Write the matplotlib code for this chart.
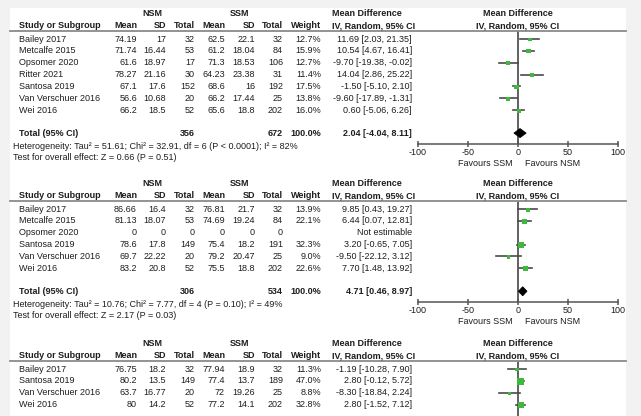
import matplotlib
matplotlib.use("Agg")
import matplotlib.pyplot as plt
from matplotlib.patches import Rectangle, Polygon
from matplotlib.lines import Line2D

plt.rcParams['font.family'] = ['Liberation Sans', 'DejaVu Sans']
plt.rcParams['axes.unicode_minus'] = False

# ---------------- data ----------------
studies1 = ["Bailey 2017", "Metcalfe 2015", "Opsomer 2020", "Ritter 2021",
            "Santosa 2019", "Van Verschuer 2016", "Wei 2016"]
nsm_mean1 = [74.19, 71.74, 61.6, 78.27, 67.1, 56.6, 66.2]
nsm_sd1 = [17, 16.44, 18.97, 21.16, 17.6, 10.68, 18.5]
nsm_n1 = [32, 53, 17, 30, 152, 20, 52]
ssm_mean1 = [62.5, 61.2, 71.3, 64.23, 68.6, 66.2, 65.6]
ssm_sd1 = [22.1, 18.04, 18.53, 23.38, 16, 17.44, 18.8]
ssm_n1 = [32, 84, 106, 31, 192, 25, 202]
weight1 = [12.7, 15.9, 12.7, 11.4, 17.5, 13.8, 16.0]
md1 = [11.69, 10.54, -9.70, 14.04, -1.50, -9.60, 0.60]
lo1 = [2.03, 4.67, -19.38, 2.86, -5.10, -17.89, -5.06]
hi1 = [21.35, 16.41, -0.02, 25.22, 2.10, -1.31, 6.26]
total1 = {"nsm_n": 356, "ssm_n": 672, "md": 2.04, "lo": -4.04, "hi": 8.11}
het1 = "Heterogeneity: Tau\u00b2 = 51.61; Chi\u00b2 = 32.91, df = 6 (P < 0.0001); I\u00b2 = 82%"
test1 = "Test for overall effect: Z = 0.66 (P = 0.51)"

studies2 = ["Bailey 2017", "Metcalfe 2015", "Opsomer 2020", "Santosa 2019",
            "Van Verschuer 2016", "Wei 2016"]
nsm_mean2 = [86.66, 81.13, 0, 78.6, 69.7, 83.2]
nsm_sd2 = [16.4, 18.07, 0, 17.8, 22.22, 20.8]
nsm_n2 = [32, 53, 0, 149, 20, 52]
ssm_mean2 = [76.81, 74.69, 0, 75.4, 79.2, 75.5]
ssm_sd2 = [21.7, 19.24, 0, 18.2, 20.47, 18.8]
ssm_n2 = [32, 84, 0, 191, 25, 202]
weight2 = [13.9, 22.1, None, 32.3, 9.0, 22.6]
md2 = [9.85, 6.44, None, 3.20, -9.50, 7.70]
lo2 = [0.43, 0.07, None, -0.65, -22.12, 1.48]
hi2 = [19.27, 12.81, None, 7.05, 3.12, 13.92]
total2 = {"nsm_n": 306, "ssm_n": 534, "md": 4.71, "lo": 0.46, "hi": 8.97}
het2 = "Heterogeneity: Tau\u00b2 = 10.76; Chi\u00b2 = 7.77, df = 4 (P = 0.10); I\u00b2 = 49%"
test2 = "Test for overall effect: Z = 2.17 (P = 0.03)"

studies3 = ["Bailey 2017", "Santosa 2019", "Van Verschuer 2016", "Wei 2016"]
nsm_mean3 = [76.75, 80.2, 63.7, 80]
nsm_sd3 = [18.2, 13.5, 16.77, 14.2]
nsm_n3 = [32, 149, 20, 52]
ssm_mean3 = [77.94, 77.4, 72, 77.2]
ssm_sd3 = [18.9, 13.7, 19.26, 14.1]
ssm_n3 = [32, 189, 25, 202]
weight3 = [11.3, 47.0, 8.8, 32.8]
md3 = [-1.19, 2.80, -8.30, 2.80]
lo3 = [-10.28, -0.12, -18.84, -1.52]
hi3 = [7.90, 5.72, 2.24, 7.12]

axis_ticks = [-100, -50, 0, 50, 100]
axis_ticklabels = ["-100", "-50", "0", "50", "100"]

# ---------------- layout ----------------
W, H = 641, 416
fig = plt.figure(figsize=(W / 100, H / 100), dpi=100)
fig.patch.set_facecolor('#f2f2f2')
fig.add_artist(Rectangle((10 / W, 0), (626 - 10) / W, 1 - 8 / H,
                         transform=fig.transFigure, facecolor='white',
                         edgecolor='none', zorder=0))

TXT = '#1e1e1e'
FS = 6.5
GREEN = '#3dba3d'
LINEC = '#555555'


def fx(x):
    return x / W


def fy(y):
    return 1 - y / H


def T(x, y, s, ha='left', bold=False, size=FS):
    fig.text(fx(x), fy(y), s, ha=ha, va='center', fontsize=size,
             fontweight='bold' if bold else 'normal', color=TXT)


def hline(y, x0=10, x1=626):
    fig.add_artist(Line2D([fx(x0), fx(x1)], [fy(y), fy(y)],
                          transform=fig.transFigure, color='#8a8a8a', lw=1.3))


def fmt(v):
    return f"{v:g}"


COL = dict(study=19, nm=137, nsd=166, nn=195, sm=225, ssd=255, sn=283,
           wt=321, md=412)
AX_L, AX_R, ZERO = 418, 618, 518


def panel(top, studies, nm, nsd, nn, sm, ssd, sn, wt, md, lo, hi,
          total=None, het=None, test=None, show_axis=True, bottom=None):
    g_y = top
    h_y = top + 12.5
    line_y = top + 18
    row0 = line_y + 8
    step = 11.85
    T(152, g_y, "NSM", ha='center', bold=True)
    T(240, g_y, "SSM", ha='center', bold=True)
    T(332, g_y, "Mean Difference", bold=True)
    T(ZERO, g_y, "Mean Difference", ha='center', bold=True)
    T(COL['study'], h_y, "Study or Subgroup", bold=True)
    for key, lab in [('nm', 'Mean'), ('nsd', 'SD'), ('nn', 'Total'),
                     ('sm', 'Mean'), ('ssd', 'SD'), ('sn', 'Total'),
                     ('wt', 'Weight')]:
        T(COL[key], h_y, lab, ha='right', bold=True)
    T(332, h_y, "IV, Random, 95% CI", bold=True)
    T(ZERO, h_y, "IV, Random, 95% CI", ha='center', bold=True)
    hline(line_y)

    ys = [row0 + i * step for i in range(len(studies))]
    for i, y in enumerate(ys):
        T(COL['study'], y, studies[i])
        T(COL['nm'], y, fmt(nm[i]), ha='right')
        T(COL['nsd'], y, fmt(nsd[i]), ha='right')
        T(COL['nn'], y, fmt(nn[i]), ha='right')
        T(COL['sm'], y, fmt(sm[i]), ha='right')
        T(COL['ssd'], y, fmt(ssd[i]), ha='right')
        T(COL['sn'], y, fmt(sn[i]), ha='right')
        if wt[i] is not None:
            T(COL['wt'], y, f"{wt[i]:.1f}%", ha='right')
            T(COL['md'], y, f"{md[i]:.2f} [{lo[i]:.2f}, {hi[i]:.2f}]", ha='right')
        else:
            T(COL['md'], y, "Not estimable", ha='right')

    if total is not None:
        tot_y = ys[-1] + 23
        axis_y = tot_y + 10.5
        T(COL['study'], tot_y, "Total (95% CI)", bold=True)
        T(COL['nn'], tot_y, str(total['nsm_n']), ha='right', bold=True)
        T(COL['sn'], tot_y, str(total['ssm_n']), ha='right', bold=True)
        T(COL['wt'], tot_y, "100.0%", ha='right', bold=True)
        T(COL['md'], tot_y, f"{total['md']:.2f} [{total['lo']:.2f}, {total['hi']:.2f}]",
          ha='right', bold=True)
        T(13, tot_y + 13.5, het)
        T(13, tot_y + 24.5, test)
    else:
        tot_y = None
        axis_y = bottom

    ax = fig.add_axes([fx(AX_L), fy(axis_y), (AX_R - AX_L) / W,
                       (axis_y - line_y) / H])
    ax.set_xlim(-100, 100)
    ax.set_ylim(axis_y, line_y)
    ax.patch.set_alpha(0)
    for s in ['top', 'left', 'right']:
        ax.spines[s].set_visible(False)
    ax.set_yticks([])
    if show_axis:
        ax.spines['bottom'].set_color(LINEC)
        ax.spines['bottom'].set_linewidth(1.1)
        ax.set_xticks(axis_ticks)
        ax.set_xticklabels(axis_ticklabels)
        ax.tick_params(axis='x', direction='inout', length=5, width=1.1,
                       color=LINEC, labelsize=FS, labelcolor=TXT, pad=0.5)
        T(ZERO - 5, axis_y + 20, "Favours SSM", ha='right')
        T(ZERO + 7, axis_y + 20, "Favours NSM", ha='left')
    else:
        ax.spines['bottom'].set_visible(False)
        ax.set_xticks([])
    ax.axvline(0, color=LINEC, lw=1.3, zorder=1)

    for i, y in enumerate(ys):
        if md[i] is None:
            continue
        ax.plot([lo[i], hi[i]], [y, y], color='#4a4a4a', lw=1.2, zorder=2)
        side_px = 2.5 + 0.1 * wt[i]
        ax.scatter([md[i]], [y + 0.6], marker='s', s=(side_px * 0.72) ** 2,
                   color=GREEN, edgecolors='none', zorder=3)
    if total is not None:
        d = Polygon([[total['lo'], tot_y], [total['md'], tot_y - 4.5],
                     [total['hi'], tot_y], [total['md'], tot_y + 4.5]],
                    closed=True, facecolor='black', edgecolor='black', lw=0.6,
                    zorder=4)
        ax.add_patch(d)
    return ax


panel(13, studies1, nsm_mean1, nsm_sd1, nsm_n1, ssm_mean1, ssm_sd1, ssm_n1,
      weight1, md1, lo1, hi1, total1, het1, test1)
panel(183, studies2, nsm_mean2, nsm_sd2, nsm_n2, ssm_mean2, ssm_sd2, ssm_n2,
      weight2, md2, lo2, hi2, total2, het2, test2)
panel(343, studies3, nsm_mean3, nsm_sd3, nsm_n3, ssm_mean3, ssm_sd3, ssm_n3,
      weight3, md3, lo3, hi3, show_axis=False, bottom=417)

fig.savefig("out.png", dpi=100, facecolor=fig.get_facecolor())
